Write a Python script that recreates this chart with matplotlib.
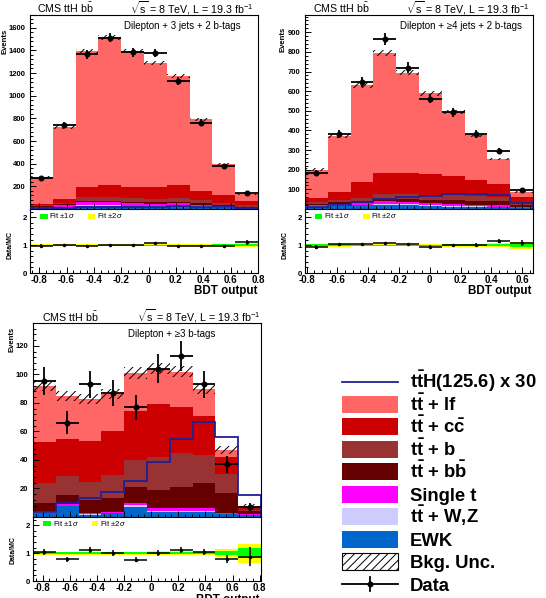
import numpy as np
import matplotlib
matplotlib.use("Agg")
import matplotlib.pyplot as plt
from matplotlib.patches import Rectangle
from matplotlib.ticker import MultipleLocator, FuncFormatter

plt.rcParams["font.family"] = ["Liberation Sans", "DejaVu Sans"]
plt.rcParams["mathtext.fontset"] = "custom"
plt.rcParams["mathtext.rm"] = "Liberation Sans"
plt.rcParams["mathtext.bf"] = "Liberation Sans:bold"
plt.rcParams["mathtext.it"] = "Liberation Sans:italic"
plt.rcParams["hatch.linewidth"] = 0.7

# ---- data: Dilepton + 3 jets + 2 b-tags
edges1 = np.linspace(-0.867, 0.8, 11)
ewk1 = [10, 18, 30, 30, 25, 22, 25, 20, 12, 6]
ttv1 = [2, 3, 5, 5, 5, 5, 5, 4, 3, 2]
st1 = [8, 12, 25, 25, 22, 20, 20, 15, 10, 5]
bb1 = [5, 8, 12, 13, 12, 12, 13, 12, 10, 8]
b1 = [8, 15, 30, 32, 30, 30, 32, 25, 18, 10]
cc1 = [14, 35, 88, 104, 100, 101, 114, 84, 67, 41]
lf1 = [231, 634, 1200, 1306, 1201, 1100, 961, 630, 275, 58]
unc1 = [10, 15, 20, 22, 20, 18, 18, 14, 10, 6]
sig1 = [5, 10, 15, 18, 20, 22, 25, 22, 18, 10]
data1 = [273, 739, 1364, 1511, 1382, 1379, 1131, 763, 377, 144]
fit1 = [0.02, 0.02, 0.015, 0.015, 0.015, 0.015, 0.02, 0.02, 0.025, 0.04]

# ---- data: Dilepton + >=4 jets + 2 b-tags
edges2 = np.linspace(-0.81, 0.67, 11)
ewk2 = [12, 15, 18, 20, 18, 15, 12, 10, 8, 5]
ttv2 = [2, 3, 4, 5, 5, 5, 5, 4, 4, 2]
st2 = [5, 8, 8, 15, 15, 10, 10, 8, 8, 5]
bb2 = [5, 8, 10, 12, 14, 18, 20, 20, 20, 10]
b2 = [10, 14, 16, 22, 22, 22, 25, 22, 20, 12]
cc2 = [20, 40, 80, 111, 107, 108, 96, 83, 67, 25]
lf2 = [146, 282, 494, 610, 514, 412, 327, 228, 128, 29]
unc2 = [8, 10, 15, 15, 12, 12, 10, 8, 7, 4]
sig2 = [10, 20, 35, 50, 62, 68, 74, 76, 72, 30]
data2 = [185, 382, 649, 865, 720, 561, 493, 382, 295, 96]
fit2 = [0.03, 0.025, 0.02, 0.02, 0.02, 0.02, 0.025, 0.03, 0.04, 0.06]

# ---- data: Dilepton + >=3 b-tags
edges3 = np.linspace(-0.87, 0.81, 11)
ewk3 = [3.0, 7.7, 1.6, 2.6, 6.8, 3.7, 3.5, 3.5, 1.8, 1.2]
ttv3 = [0.5, 0.3, 0.4, 0.4, 1.7, 0.8, 1.0, 1.0, 0.4, 0.3]
st3 = [0.9, 1.1, 0.6, 0.7, 1.5, 1.6, 1.6, 1.6, 0.8, 0.5]
bb3 = [5.2, 6.3, 9.3, 9.4, 11.2, 12.8, 15.1, 17.5, 13.6, 2.0]
b3 = [14.0, 13.3, 12.9, 16.3, 18.7, 23.4, 23.4, 19.8, 13.4, 1.0]
cc3 = [28.9, 26.3, 28.2, 30.6, 34.1, 36.7, 32.4, 27.6, 12.0, 1.0]
lf3 = [39.5, 30.0, 30.0, 26.0, 27.0, 25.0, 25.0, 19.0, 5.0, 2.0]
unc3 = [3.5, 3.5, 3.5, 3.5, 4, 4, 4, 3.5, 2.5, 1]
sig3 = [3.7, 9.6, 13.1, 17.5, 25.3, 38.8, 54.5, 66.8, 55.9, 15.4]
data3 = [95.5, 66, 93, 87, 77, 104, 113, 93, 37, 7]
fit3 = [0.03, 0.03, 0.03, 0.03, 0.03, 0.035, 0.04, 0.04, 0.07, 0.17]

C_LF, C_CC, C_B, C_BB = "#ff6666", "#cc0000", "#993333", "#660000"
C_ST, C_TTV, C_EWK, C_SIG = "#ff00ff", "#ccccff", "#0066cc", "#202096"
stack_colors = [C_EWK, C_TTV, C_ST, C_BB, C_B, C_CC, C_LF]

W, H = 546, 598
fig = plt.figure(figsize=(W / 100, H / 100), dpi=100)


def px_axes(l, t, r, b):
    return fig.add_axes([l / W, 1 - b / H, (r - l) / W, (b - t) / H])


def fmt_x(v, p):
    return "0" if abs(v) < 1e-9 else f"{v:.1f}"


def fmt_y(v, p):
    return "" if abs(v) < 1e-9 else f"{v:g}"


def draw_panel(box, edges, comps, unc, sig, data, fit, ymax, ystep):
    l, t, r, mid, bot = box
    main = px_axes(l, t, r, mid)
    rat = px_axes(l, mid, r, bot)
    centers = 0.5 * (edges[1:] + edges[:-1])
    w = edges[1] - edges[0]
    base = np.zeros(len(centers))
    for vals, col in zip(comps, stack_colors):
        top = base + np.array(vals, float)
        main.stairs(top, edges, baseline=base, fill=True, color=col, lw=0)
        base = top
    total = base
    unc = np.array(unc, float)
    data = np.array(data, float)
    main.stairs(sig, edges, baseline=0, color=C_SIG, lw=1.3, zorder=3)
    main.bar(centers, 2 * unc, bottom=total - unc, width=w, fill=False,
             hatch="////", edgecolor="k", lw=0, zorder=4)
    main.errorbar(centers, data, xerr=w / 2, yerr=np.sqrt(data), fmt="o",
                  color="k", ms=3.3, elinewidth=1.3, capsize=0, zorder=5)
    main.set_ylim(0, ymax)
    main.yaxis.set_major_locator(MultipleLocator(ystep))
    main.yaxis.set_minor_locator(MultipleLocator(ystep / 5))
    main.yaxis.set_major_formatter(FuncFormatter(fmt_y))
    main.tick_params(labelbottom=False, labelsize=5.5)

    fit = np.append(fit, fit[-1])
    rat.fill_between(edges, 1 - 2 * fit, 1 + 2 * fit, step="post",
                     color="#ffff00", lw=0)
    rat.fill_between(edges, 1 - fit, 1 + fit, step="post",
                     color="#00ff00", lw=0)
    rat.errorbar(centers, data / total, xerr=w / 2, yerr=np.sqrt(data) / total,
                 fmt="o", color="k", ms=1.5, elinewidth=1.1, capsize=0)
    rat.set_ylim(0, 2.3)
    rat.yaxis.set_major_locator(MultipleLocator(1))
    rat.yaxis.set_minor_locator(MultipleLocator(0.2))
    rat.xaxis.set_major_formatter(FuncFormatter(fmt_x))
    rat.tick_params(axis="x", labelsize=7, pad=1.5)
    rat.tick_params(axis="y", labelsize=5.7, pad=2)
    for ax in (main, rat):
        ax.set_xlim(edges[0], edges[-1])
        ax.xaxis.set_major_locator(MultipleLocator(0.2))
        ax.xaxis.set_minor_locator(MultipleLocator(0.05))
        ax.tick_params(which="both", direction="in", top=False, right=False,
                       width=0.7)
        ax.tick_params(which="major", length=4)
        ax.tick_params(which="minor", length=2)
        for lab in ax.get_xticklabels() + ax.get_yticklabels():
            lab.set_fontweight("bold")
        for s in ax.spines.values():
            s.set_linewidth(0.8)


draw_panel((30, 15, 258, 209, 273), edges1,
           [ewk1, ttv1, st1, bb1, b1, cc1, lf1], unc1, sig1, data1, fit1, 1712, 200)
draw_panel((305, 15, 533, 209, 273), edges2,
           [ewk2, ttv2, st2, bb2, b2, cc2, lf2], unc2, sig2, data2, fit2, 988, 100)
draw_panel((33, 323, 261, 517, 581), edges3,
           [ewk3, ttv3, st3, bb3, b3, cc3, lf3], unc3, sig3, data3, fit3, 136, 20)

# overlay in pixel coordinates for texts and legends
ov = fig.add_axes([0, 0, 1, 1], zorder=10)
ov.set_xlim(0, W)
ov.set_ylim(H, 0)
ov.axis("off")

titles = [
    # cms_x, base_y, sqrt_right, dil_right, dil_y, dil_text, ev_x, ev_top, dm_x, dm_y, bdt_r, bdt_y, fit_x, fit_y
    (36.7, 13.3, 253.3, 240.7, 29, "Dilepton + 3 jets + 2 b-tags", 5, 29, 10, 245, 257, 291, 40, 216),
    (313, 13.3, 529.7, 522.3, 29, "Dilepton + \u22654 jets + 2 b-tags", 283, 27, 284.7, 245, 531.3, 291, 314.7, 216),
    (41.7, 321.7, 260, 215, 336.7, "Dilepton + \u22653 b-tags", 11.7, 327, 13.3, 550, 260, 600, 43.3, 523.3),
]
for (cx, by, sr, dr, dy, dtxt, evx, evt, dmx, dmy, br, bdy, fx, fy) in titles:
    ov.text(cx, by, r"CMS ttH b$\bar{\mathrm{b}}$", fontsize=7.7, va="baseline", ha="left")
    ov.text(sr, by, r"$\sqrt{\mathrm{s}}$ = 8 TeV, L = 19.3 fb$^{-1}$", fontsize=7.7,
            va="baseline", ha="right")
    ov.text(dr, dy, dtxt, fontsize=7, va="baseline", ha="right")
    ov.text(evx, evt, "Events", fontsize=5.6, fontweight="bold", rotation=90,
            ha="center", va="top")
    ov.text(dmx, dmy, "Data/MC", fontsize=5, fontweight="bold", rotation=90,
            ha="center", va="center")
    ov.text(br, bdy, "BDT output", fontsize=8.4, fontweight="bold", ha="right", va="center")
    ov.add_patch(Rectangle((fx, fy - 2.5), 7.7, 5, color="#00ff00", lw=0))
    ov.text(fx + 9.3, fy, r"Fit $\pm$1$\sigma$", fontsize=5.5, va="center")
    ov.add_patch(Rectangle((fx + 48.3, fy - 2.5), 6.7, 5, color="#ffff00", lw=0))
    ov.text(fx + 56.7, fy, r"Fit $\pm$2$\sigma$", fontsize=5.5, va="center")

# main legend
leg_labels = [
    r"$\mathbf{t\bar{t}}$H(125.6) x 30",
    r"$\mathbf{t\bar{t}}$ + lf",
    r"$\mathbf{t\bar{t}}$ + c$\mathbf{\bar{c}}$",
    r"$\mathbf{t\bar{t}}$ + b",
    r"$\mathbf{t\bar{t}}$ + b$\mathbf{\bar{b}}$",
    "Single t",
    r"$\mathbf{t\bar{t}}$ + W,Z",
    "EWK",
    "Bkg. Unc.",
    "Data",
]
leg_kinds = ["line", C_LF, C_CC, C_B, C_BB, C_ST, C_TTV, C_EWK, "hatch", "data"]
x0, x1, y0, dy = 341.7, 398.3, 381.7, 22.48
for i, (lab, kind) in enumerate(zip(leg_labels, leg_kinds)):
    yc = y0 + i * dy
    if kind == "line":
        ov.plot([x0, x1], [yc, yc], color=C_SIG, lw=1.3)
    elif kind == "hatch":
        ov.add_patch(Rectangle((x0, yc - 8.5), x1 - x0, 17, facecolor="white",
                               edgecolor="k", hatch="////", lw=0.8))
    elif kind == "data":
        ov.plot([x0, x1], [yc, yc], color="k", lw=1.3)
        ov.plot([(x0 + x1) / 2] * 2, [yc - 7, yc + 7], color="k", lw=1.3)
        ov.plot([(x0 + x1) / 2], [yc], "o", color="k", ms=3.3)
    else:
        ov.add_patch(Rectangle((x0, yc - 8.5), x1 - x0, 17, color=kind, lw=0))
    ov.text(410, yc + 6.7, lab, fontsize=13.3, fontweight="bold", va="baseline", ha="left")

fig.savefig("out.png", dpi=100)
